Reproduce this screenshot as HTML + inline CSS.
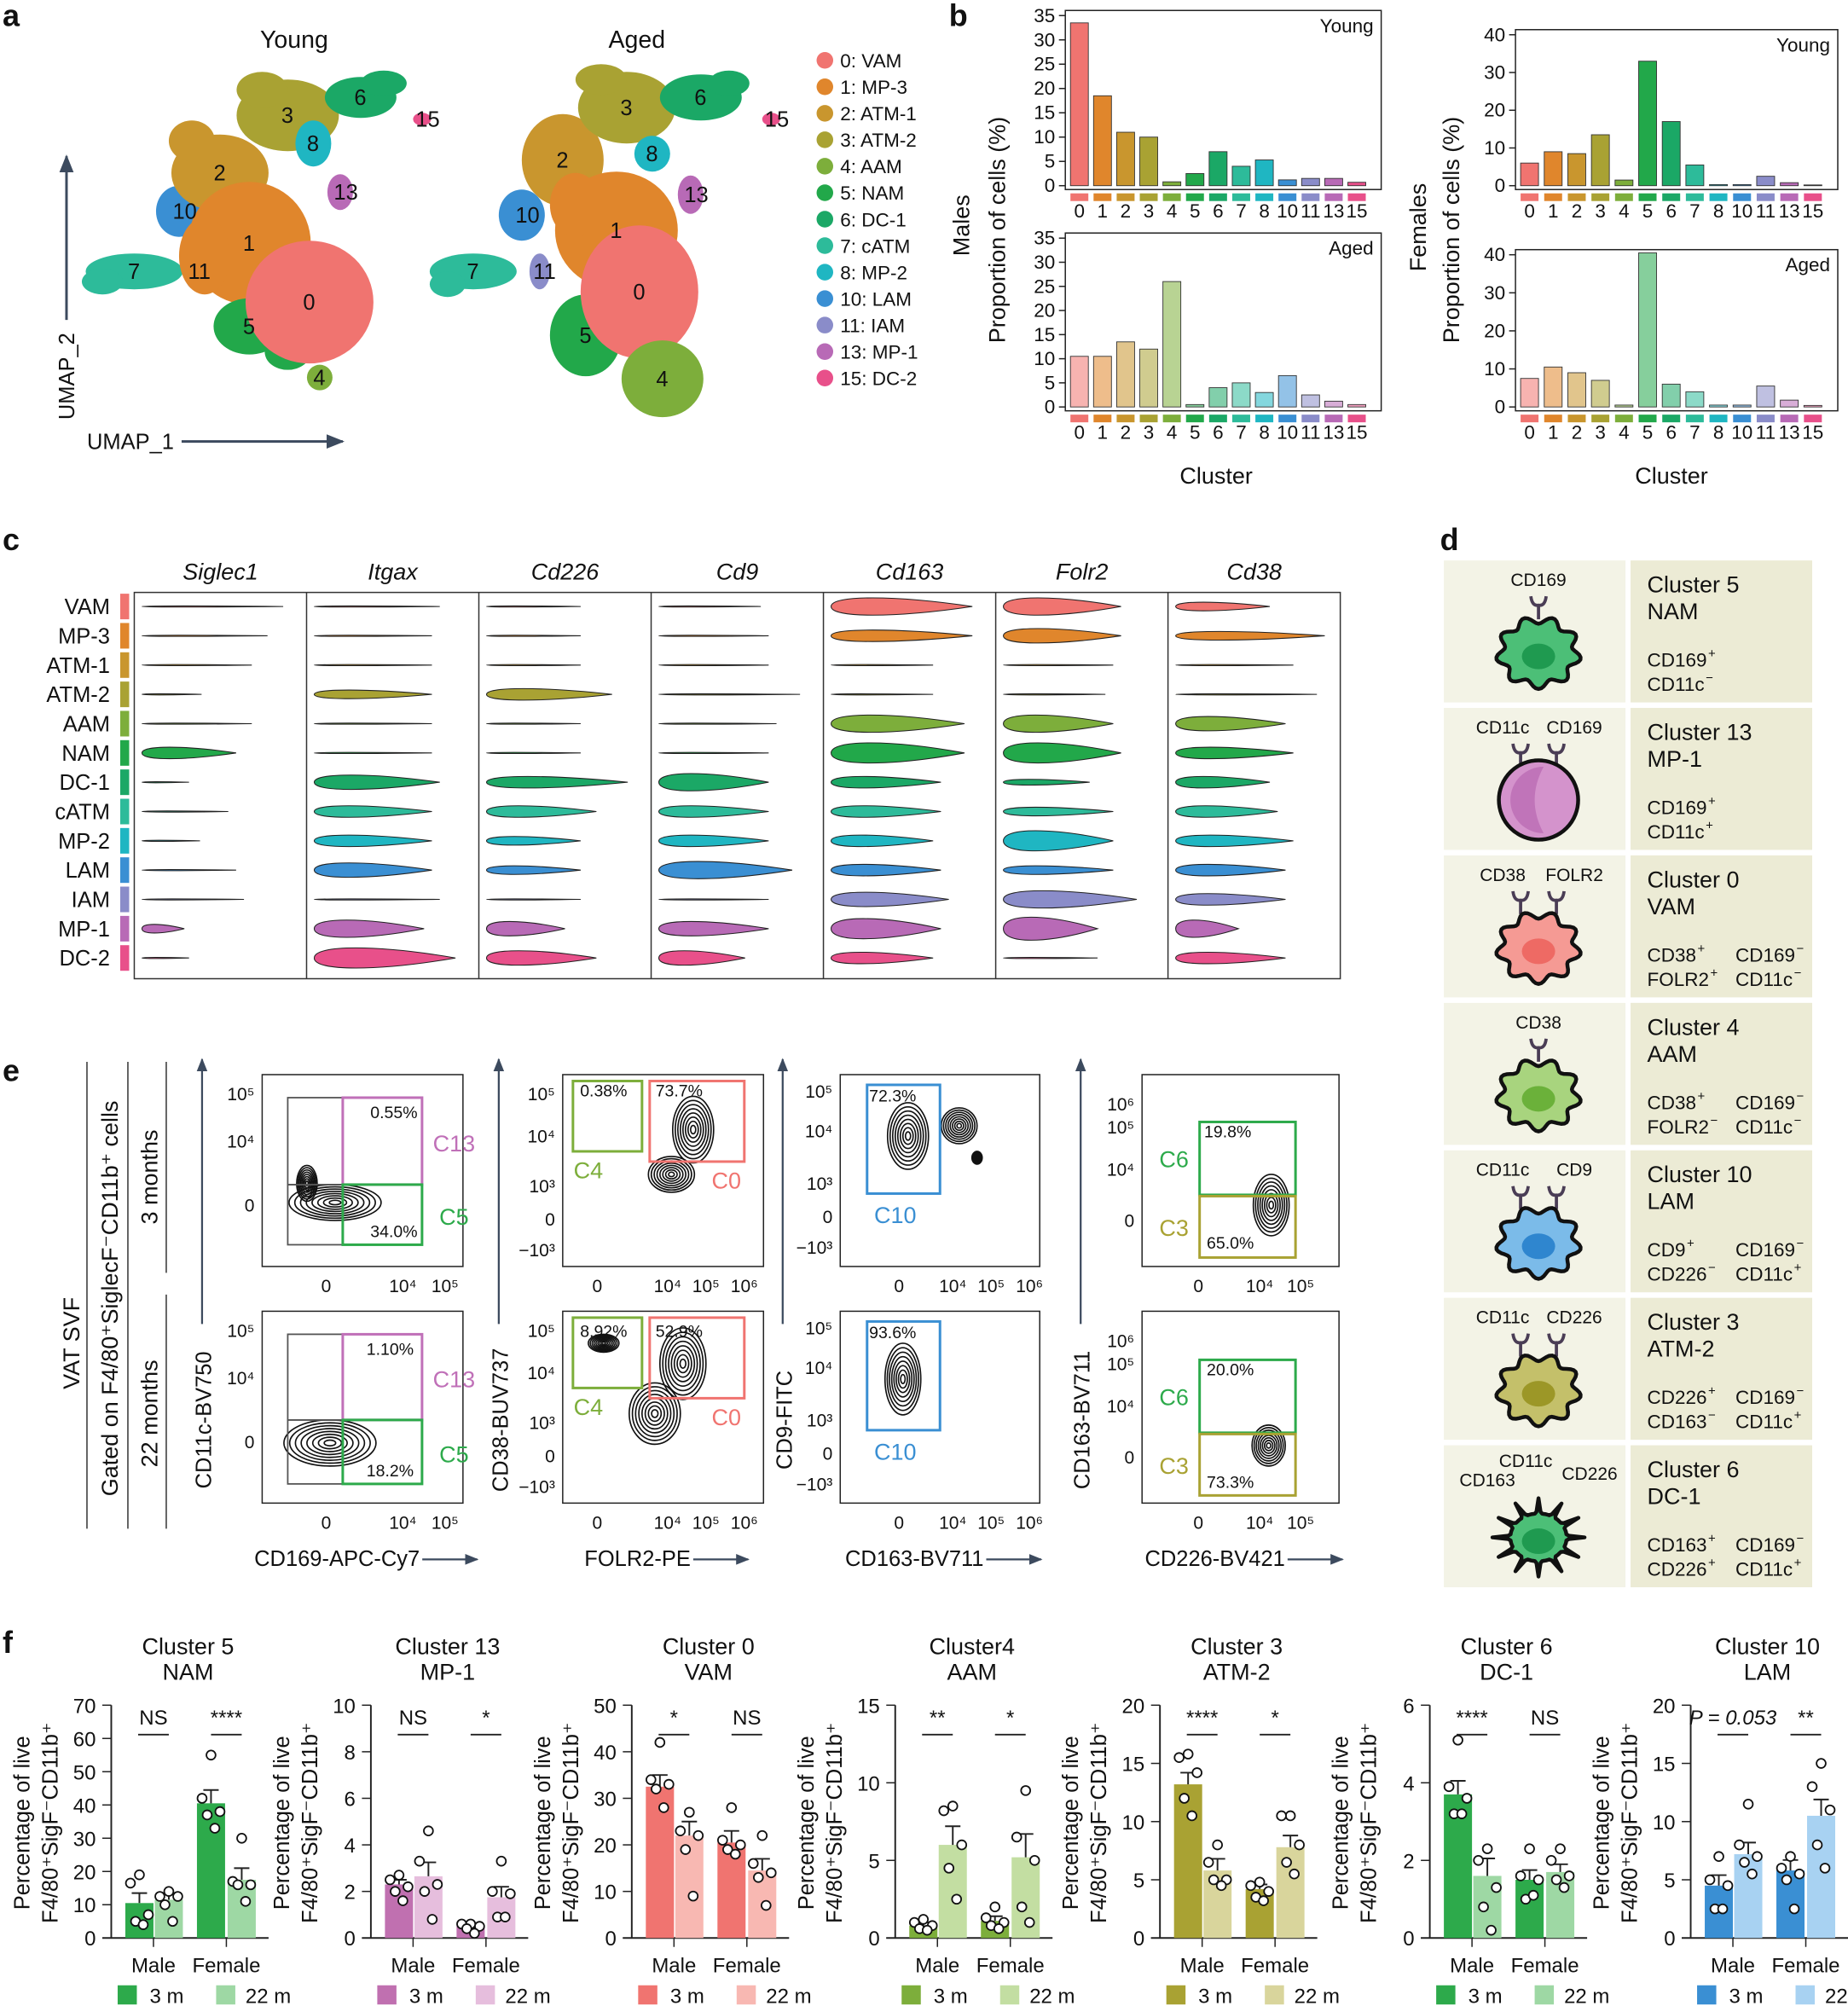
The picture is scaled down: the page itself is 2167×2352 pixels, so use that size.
<!DOCTYPE html>
<html><head><meta charset="utf-8"><style>
html,body{margin:0;padding:0;background:#fff}
svg{display:block;font-family:"Liberation Sans",Arial,sans-serif}
</style></head><body>
<svg id="s" width="2167" height="2352" viewBox="0 0 1445 1568" xmlns="http://www.w3.org/2000/svg"></svg>
<script>
// ---------- DATA ----------
const clusterIds=['0','1','2','3','4','5','6','7','8','10','11','13','15'];
const clusterNames=['VAM','MP-3','ATM-1','ATM-2','AAM','NAM','DC-1','cATM','MP-2','LAM','IAM','MP-1','DC-2'];
const clusterColors=['#F07470','#E0862C','#C9962E','#A9A233','#7DAE3B','#22A84A','#1BA866','#2DBB9A','#1FB6C2','#3A8FD3','#8A8CC9','#B86AB6','#E8508A'];
const youngMale=[33.5,18.5,11,10,0.8,2.5,7,4,5.3,1.2,1.5,1.5,0.7];
const agedMale=[10.5,10.5,13.5,12,26,0.5,4,5,3,6.5,2.5,1.2,0.5];
const youngFemale=[6,9,8.5,13.5,1.5,33,17,5.5,0.3,0.3,2.5,0.8,0.2];
const agedFemale=[7.5,10.5,9,7,0.5,40.5,6,4,0.5,0.5,5.5,1.8,0.4];
const violinGenes=['Siglec1','Itgax','Cd226','Cd9','Cd163','Folr2','Cd38'];
const violinRowOrder=[0,1,2,3,4,5,6,7,8,9,10,11,12];
const vLen={Siglec1:[.9,.8,.7,.38,.7,.6,.3,.55,.37,.6,.65,.27,.3],Itgax:[.8,.75,.75,.75,.75,.75,.8,.75,.75,.75,.8,.7,.9],Cd226:[.6,.6,.6,.8,.6,.6,.9,.7,.6,.6,.6,.5,.7],Cd9:[.65,.7,.7,.9,.75,.7,.7,.7,.7,.85,.7,.7,.55],Cd163:[.9,.9,.65,.65,.85,.85,.7,.7,.65,.7,.75,.7,.65],Folr2:[.75,.75,.7,.65,.7,.75,.55,.7,.7,.7,.85,.6,.6],Cd38:[.6,.95,.75,.9,.7,.75,.6,.65,.75,.7,.7,.4,.7]};
const vHt={Siglec1:[.4,.4,.4,.4,.4,4,.4,.4,.4,.4,.4,3,.4],Itgax:[.4,.4,.4,3,.4,.4,5,4,4,5,.4,6,7],Cd226:[.4,.4,.4,4,.4,.4,4,4,3,3,.4,5,5],Cd9:[.4,.4,.4,.4,.4,.4,6,4,4,6,.4,5,5],Cd163:[6,4,.4,.4,6,7,4,4,4,4,5,7,4],Folr2:[6,5,.4,.4,6,7,2,3,7,3,6,8,.4],Cd38:[3,3,.4,.4,5,4,4,4,4,4,4,6,4]};
const fTitles=[['Cluster 5','NAM'],['Cluster 13','MP-1'],['Cluster 0','VAM'],['Cluster4','AAM'],['Cluster 3','ATM-2'],['Cluster 6','DC-1'],['Cluster 10','LAM']];
const fMax=[70,10,50,15,20,6,20];
const fStep=[10,2,10,5,5,2,5];
const fMeans=[[10.5,11.5,40.5,17.5],[2.3,2.65,0.5,1.75],[32.5,22,20.5,14.5],[0.8,6,1.1,5.2],[13.2,5.8,4.2,7.8],[3.7,1.6,1.5,1.7],[4.5,7.2,5.8,10.5]];
const fSem=[[3,2,4,3.5],[0.2,0.6,0.1,0.45],[2.5,3,2.5,2.5],[0.2,1.2,0.3,1.5],[1,1,0.4,1],[0.35,0.45,0.25,0.2],[0.9,1,0.9,1.4]];
const fPoints=[
 [[19,16.5,7,5,4],[14,12.5,12.5,10,5],[55,42,38,37,33],[30,17,16,16,11]],
 [[2.7,2.5,2.2,2.0,1.6],[4.6,3.3,2.3,2.0,0.8],[0.6,0.6,0.5,0.4,0.2],[3.3,2.0,1.9,0.9,0.9]],
 [[42,34,33,32,28],[27,23,22,19,9],[28,21,20,19,18],[22,16,14,13,7]],
 [[1.2,1,0.8,0.6,0.5],[8.5,8.2,6,4.5,2.5],[2,1.3,1,0.8,0.6],[9.5,6.5,5,2,1]],
 [[15.8,15.5,14.2,12,10.5],[8,6.5,5,5,4.5],[4.8,4.5,4,3.5,3.2],[10.5,10.5,8,6.5,5.5]],
 [[5.1,3.9,3.6,3.2,3.2],[2.3,2.0,1.3,0.8,0.2],[2.3,1.6,1.5,1.0,1.1],[2.3,2.0,1.6,1.5,1.3]],
 [[7,5,4.5,2.5,2.5],[11.5,8,7,6.5,5.5],[7,6,5.5,5,2.5],[15,13,11,8,6]]];
const fSig=[['NS','****'],['NS','*'],['*','NS'],['**','*'],['****','*'],['****','NS'],['P = 0.053','**']];
const fDark=['#2DAA4B','#C070B0','#F07470','#7DAE3B','#A9A233','#2DAA4B','#3A8FD3'];
const fLight=['#9ED8A4','#E6BEDD','#F8B8B2','#C3DEA2','#D9D59C','#9ED8A4','#A8D2F2'];

// ---------- helpers ----------
const NS='http://www.w3.org/2000/svg';
const S=document.getElementById('s');
function mk(tag,a,p){const e=document.createElementNS(NS,tag);for(const k in a)e.setAttribute(k,a[k]);(p||S).appendChild(e);return e;}
function tx(x,y,t,o,p){o=o||{};const e=mk('text',Object.assign({x:x,y:y,'font-size':o.fs||15,fill:o.fill||'#111','text-anchor':o.anchor||'start'},o.extra||{}),p);e.textContent=t;return e;}
function grp(name){const g=mk('g',{});return g;}

[['a',2,20],['b',742,20],['c',2,430],['d',1126,430],['e',2,845],['f',2,1292]].forEach(l=>{
 const t=tx(l[1],l[2],l[0],{fs:24,extra:{'font-weight':'bold'}});
 
 
});

// ---------- panel a : UMAP ----------
const ga=grp('panel-a-umap');
const youngBlobs=[[7,105,212,38,14],[7,80,220,16,10],[10,140,165,18,20],[11,152,212,8,14],[2,172,135,38,30],[2,150,110,18,16],[3,225,90,40,28],[3,205,70,20,14],[6,282,76,28,16],[6,300,65,18,10],[8,245,112,14,18],[13,266,150,10,14],[15,330,93,7,5],[1,195,190,48,48],[1,160,200,20,30],[5,195,255,28,22],[5,225,275,18,14],[4,250,295,10,10],[0,242,236,50,48]];
const agedBlobs=[[7,370,212,34,14],[7,350,222,14,10],[10,408,168,18,20],[11,422,212,8,14],[2,440,125,32,36],[3,490,84,38,28],[3,470,62,20,12],[6,548,76,32,18],[6,570,65,16,10],[8,510,120,14,14],[13,540,152,10,15],[15,603,93,7,5],[1,482,180,48,46],[1,450,160,20,25],[5,458,262,28,32],[0,500,228,46,52],[4,518,296,32,30]];
function idxOf(c){return clusterIds.indexOf(String(c));}
[youngBlobs,agedBlobs].forEach((bl,k)=>{
 bl.forEach(b=>{
  const e=mk('ellipse',{cx:b[1],cy:b[2],rx:b[3],ry:b[4],fill:clusterColors[idxOf(b[0])]},ga);
  
  
 });
 const seen={};
 bl.forEach(b=>{if(seen[b[0]])return;seen[b[0]]=1;tx(b[1]-5,b[2]+6,String(b[0]),{fs:17},ga);});
});
tx(230,37,'Young',{fs:19,anchor:'middle'},ga);
tx(498,37,'Aged',{fs:19,anchor:'middle'},ga);
mk('defs',{}).innerHTML='<marker id="ar" viewBox="0 0 10 10" refX="9" refY="5" markerWidth="7" markerHeight="7" orient="auto"><path d="M0,1L10,5L0,9z" fill="#3c4a5e"/></marker>';
mk('line',{x1:52,y1:250,x2:52,y2:122,stroke:'#3c4a5e','stroke-width':2,'marker-end':'url(#ar)'},ga);
mk('line',{x1:142,y1:345,x2:268,y2:345,stroke:'#3c4a5e','stroke-width':2,'marker-end':'url(#ar)'},ga);
tx(58,328,'UMAP_2',{fs:17,extra:{transform:'rotate(-90 58 328)'}},ga);
tx(68,351,'UMAP_1',{fs:17},ga);
const legA=grp('cluster-legend');
clusterIds.forEach((c,i)=>{
 const y=47+i*20.7;
 const d=mk('circle',{cx:645,cy:y,r:6.5,fill:clusterColors[i]},legA);
 
 
 tx(657,y+5.5,c+': '+clusterNames[i],{fs:15},legA);
});

// ---------- panel b ----------
function barChart(name,vals,x0,x1,yTop,yBot,maxV,step,label,light){
 const g=grp(name);
 mk('rect',{x:x0,y:yTop-3,width:x1-x0,height:yBot-yTop+6,fill:'none',stroke:'#222','stroke-width':1},g);
 const ys=v=>yBot-(v/maxV)*(yBot-(yTop+1));
 for(let v=0;v<=maxV;v+=step){mk('line',{x1:x0-5,x2:x0,y1:ys(v),y2:ys(v),stroke:'#222'},g);tx(x0-8,ys(v)+5,String(v),{fs:15,anchor:'end'},g);}
 const slot=(x1-x0-12)/13;
 vals.forEach((v,i)=>{
  const cx=x0+11+i*slot;
  const r=mk('rect',{x:cx-7,y:ys(v),width:14,height:yBot-ys(v),fill:clusterColors[i],'fill-opacity':light?0.55:1,stroke:'#333','stroke-width':0.6},g);
  
  
  mk('rect',{x:cx-7,y:yBot+6,width:14,height:6,fill:clusterColors[i]},g);
  tx(cx,yBot+25,clusterIds[i],{fs:15,anchor:'middle'},g);
 });
 tx(x1-6,yTop+14,label,{fs:15,anchor:'end'},g);
}
barChart('bar-chart-young-males',youngMale,833,1080,11,145,35,5,'Young',false);
barChart('bar-chart-aged-males',agedMale,833,1080,185,318,35,5,'Aged',true);
barChart('bar-chart-young-females',youngFemale,1185,1437,26,145,40,10,'Young',false);
barChart('bar-chart-aged-females',agedFemale,1185,1437,198,318,40,10,'Aged',true);
tx(758,200,'Males',{fs:18,extra:{transform:'rotate(-90 758 200)'}});
tx(786,268,'Proportion of cells (%)',{fs:18,extra:{transform:'rotate(-90 786 268)'}});
tx(1115,212,'Females',{fs:18,extra:{transform:'rotate(-90 1115 212)'}});
tx(1141,268,'Proportion of cells (%)',{fs:18,extra:{transform:'rotate(-90 1141 268)'}});
tx(951,378,'Cluster',{fs:18,anchor:'middle'});
tx(1307,378,'Cluster',{fs:18,anchor:'middle'});

// ---------- panel c ----------
const gc=grp('panel-c-violins');
const vx0=105,vx1=1048,vy0=463,vy1=765,colW=(vx1-vx0)/7;
mk('rect',{x:vx0,y:vy0,width:vx1-vx0,height:vy1-vy0,fill:'none',stroke:'#333'},gc);
for(let j=1;j<7;j++)mk('line',{x1:vx0+j*colW,x2:vx0+j*colW,y1:vy0,y2:vy1,stroke:'#333'},gc);
violinRowOrder.forEach((ci,i)=>{
 const y=474+i*22.9;
 tx(86,y+6,clusterNames[ci],{fs:17,anchor:'end'},gc);
 mk('rect',{x:94,y:y-10,width:7,height:20,fill:clusterColors[ci]},gc);
});
violinGenes.forEach((g,j)=>{
 const cx0=vx0+j*colW+6;
 tx(vx0+(j+.5)*colW,453,g,{fs:18,anchor:'middle',extra:{'font-style':'italic'}},gc);
 violinRowOrder.forEach((ci,i)=>{
  const y=474+i*22.9,L=vLen[g][i]*(colW-12),H=vHt[g][i]*1.25;
  const p=mk('path',{d:`M${cx0},${y}C${cx0},${y-H*1.2} ${cx0+.45*L},${y-H*1.2} ${cx0+L},${y}C${cx0+.45*L},${y+H*1.2} ${cx0},${y+H*1.2} ${cx0},${y}Z`,fill:clusterColors[ci],stroke:'#222','stroke-width':0.7},gc);
  
  
 });
});

// ---------- panel d ----------
const gd=grp('panel-d-cell-types');
const cards=[
 {t:['Cluster 5','NAM'],ab:['CD169'],m:[['CD169','+'],['CD11c','−']],c:'#4cbf77',n:'#1f9a50',shape:'wavy'},
 {t:['Cluster 13','MP-1'],ab:['CD11c','CD169'],m:[['CD169','+'],['CD11c','+']],c:'#d493cc',n:'#b866b0',shape:'round'},
 {t:['Cluster 0','VAM'],ab:['CD38','FOLR2'],m:[['CD38','+'],['FOLR2','+'],['CD169','−'],['CD11c','−']],c:'#f59a94',n:'#ee6a64',shape:'wavy'},
 {t:['Cluster 4','AAM'],ab:['CD38'],m:[['CD38','+'],['FOLR2','−'],['CD169','−'],['CD11c','−']],c:'#a8d47e',n:'#6bb13a',shape:'wavy'},
 {t:['Cluster 10','LAM'],ab:['CD11c','CD9'],m:[['CD9','+'],['CD226','−'],['CD169','−'],['CD11c','+']],c:'#7bbbe9',n:'#2f86cf',shape:'wavy'},
 {t:['Cluster 3','ATM-2'],ab:['CD11c','CD226'],m:[['CD226','+'],['CD163','−'],['CD169','−'],['CD11c','+']],c:'#c4c06a',n:'#9c9727',shape:'wavy'},
 {t:['Cluster 6','DC-1'],ab:['CD163','CD11c','CD226'],m:[['CD163','+'],['CD226','+'],['CD169','−'],['CD11c','+']],c:'#4cbf77',n:'#1f9a50',shape:'dc'}];
cards.forEach((cd,i)=>{
 const y=438+i*115.3,h=111;
 const card=grp('cell-card-'+cd.t[1].toLowerCase());
 gd.appendChild(card);
 mk('rect',{x:1129,y:y,width:142,height:h,fill:'#F3F3E6'},card);
 mk('rect',{x:1275,y:y,width:142,height:h,fill:'#ECEBD5'},card);
 const cx=1203,cy=y+72;
 const abx=cd.ab.length===1?[cx]:cd.ab.length===2?[cx-18,cx+18]:[cx-32,cx-10,cx+28];
 const aby=cd.ab.length===3?[y+32,y+17,y+27]:cd.ab.map(()=>y+20);
 cd.ab.forEach((a,k)=>{
  const ax=abx[k];
  tx(ax+(cd.ab.length===2?(k?10:-10):0)+(cd.ab.length===3?(k===0?-8:(k===2?12:0)):0),aby[k],a,{fs:14,anchor:'middle'},card);
 });
 // receptors attached to cell
 const recx=cd.ab.length===1?[cx]:cd.ab.length===2?[cx-14,cx+14]:[cx-14,cx+14];
 if(cd.shape!=='dc')recx.forEach(ax=>{
  mk('path',{d:`M${ax},${cy-26}L${ax},${cy-37}M${ax-6},${cy-44}Q${ax-5},${cy-36} ${ax},${cy-37}Q${ax+5},${cy-36} ${ax+6},${cy-44}`,stroke:'#4a3d55','stroke-width':2.5,fill:'none'},card);
 });
 let d='';
 if(cd.shape==='round'){
  mk('circle',{cx:cx,cy:cy,r:31,fill:cd.c,stroke:'#111','stroke-width':3},card);
  mk('path',{d:`M${cx+4},${cy-26}A26,26 0 1,0 ${cx+4},${cy+26}Q${cx-10},${cy} ${cx+4},${cy-26}Z`,fill:cd.n,'fill-opacity':0.7},card);
 } else {
  const n=cd.shape==='dc'?12:9;
  for(let a=0;a<=96;a++){const th=a/96*2*Math.PI;const r=(cd.shape==='dc'?22:30)+(cd.shape==='dc'?14*Math.max(0,Math.cos(n*th))**6:3.5*Math.sin(n*th));d+=(a?'L':'M')+(cx+r*Math.cos(th)).toFixed(1)+','+(cy+r*0.85*Math.sin(th)).toFixed(1);}
  mk('path',{d:d+'Z',fill:cd.c,stroke:'#111','stroke-width':3,'stroke-linejoin':'round'},card);
  mk('ellipse',{cx:cx,cy:cy+3,rx:13,ry:10,fill:cd.n},card);
 }
 tx(1288,y+25,cd.t[0],{fs:18},card);
 tx(1288,y+46,cd.t[1],{fs:18},card);
 cd.m.forEach((m,k)=>{
  const col=k<2?1288:1357,row=k%2;
  const t=tx(col,y+83+row*19,m[0],{fs:15},card);
  tx(col+t.getComputedTextLength()+1,y+76+row*19,m[1],{fs:10},card);
 });
});

// ---------- panel e ----------
const ge=grp('panel-e-flow');
mk('line',{x1:68,y1:830,x2:68,y2:1195,stroke:'#333'},ge);
mk('line',{x1:100,y1:830,x2:100,y2:1195,stroke:'#333'},ge);
mk('line',{x1:130,y1:830,x2:130,y2:995,stroke:'#333'},ge);
mk('line',{x1:130,y1:1012,x2:130,y2:1195,stroke:'#333'},ge);
tx(62,1050,'VAT SVF',{fs:18,anchor:'middle',extra:{transform:'rotate(-90 62 1050)'}},ge);
tx(92,1015,'Gated on F4/80⁺SiglecF⁻CD11b⁺ cells',{fs:18,anchor:'middle',extra:{transform:'rotate(-90 92 1015)'}},ge);
tx(123,920,'3 months',{fs:18,anchor:'middle',extra:{transform:'rotate(-90 123 920)'}},ge);
tx(123,1105,'22 months',{fs:18,anchor:'middle',extra:{transform:'rotate(-90 123 1105)'}},ge);
const plots=[
 {x:205,w:157,yl:'CD11c-BV750',xl:'CD169-APC-Cy7',ax:158,yt:[['10⁵',860],['10⁴',897],['0',947]],xt:[['0',255],['10⁴',315],['10⁵',348]],
  rows:[{g:[[225,858,43,68,'#555',''],[225,926,43,47,'#555',''],[268,858,62,68,'#C070B8','C13'],[268,926,62,47,'#2DAA4B','C5']],pct:[['0.55%',308,874],['34.0%',308,967]],c:[[262,940,36,14],[240,925,8,14]]},
        {g:[[225,1043,43,67,'#555',''],[225,1110,43,50,'#555',''],[268,1043,62,67,'#C070B8','C13'],[268,1110,62,50,'#2DAA4B','C5']],pct:[['1.10%',305,1059],['18.2%',305,1154]],c:[[258,1128,36,18]]}]},
 {x:440,w:157,yl:'CD38-BUV737',xl:'FOLR2-PE',ax:390,yt:[['10⁵',860],['10⁴',893],['10³',932],['0',958],['−10³',982]],xt:[['0',467],['10⁴',522],['10⁵',552],['10⁶',582]],
  rows:[{g:[[448,845,54,55,'#7DAE3B','C4'],[508,845,74,63,'#F07470','C0']],pct:[['0.38%',472,857],['73.7%',531,857]],c:[[542,883,16,26],[525,918,18,14]]},
        {g:[[448,1030,54,55,'#7DAE3B','C4'],[508,1030,74,63,'#F07470','C0']],pct:[['8.92%',472,1045],['52.9%',531,1045]],c:[[534,1066,18,28],[512,1105,20,24],[472,1050,12,7]]}]},
 {x:657,w:156,yl:'CD9-FITC',xl:'CD163-BV711',ax:612,yt:[['10⁵',858],['10⁴',889],['10³',930],['0',956],['−10³',980]],xt:[['0',703],['10⁴',745],['10⁵',775],['10⁶',805]],
  rows:[{g:[[678,848,57,85,'#3A8FD3','C10']],pct:[['72.3%',698,861]],c:[[710,888,16,26],[750,880,14,14],[764,905,4,5]]},
        {g:[[678,1033,57,85,'#3A8FD3','C10']],pct:[['93.6%',698,1046]],c:[[706,1078,14,28]]}]},
 {x:893,w:154,yl:'CD163-BV711',xl:'CD226-BV421',ax:845,yt:[['10⁶',868],['10⁵',886],['10⁴',919],['0',959]],xt:[['0',937],['10⁴',985],['10⁵',1017]],
  rows:[{g:[[938,877,75,57,'#2DAA4B','C6'],[938,935,75,48,'#A9A233','C3']],pct:[['19.8%',960,889],['65.0%',962,976]],c:[[994,942,14,24]]},
        {g:[[938,1063,75,57,'#2DAA4B','C6'],[938,1121,75,48,'#A9A233','C3']],pct:[['20.0%',962,1075],['73.3%',962,1163]],c:[[992,1130,13,16]]}]}];
plots.forEach((pl,pi)=>{
 const pg=grp('flow-plot-column-'+(pi+1));
 ge.appendChild(pg);
 mk('line',{x1:pl.ax,y1:1035,x2:pl.ax,y2:828,stroke:'#3c4a5e','stroke-width':1.5,'marker-end':'url(#ar)'},pg);
 tx(pl.ax+7,1110,pl.yl,{fs:17,anchor:'middle',extra:{transform:`rotate(-90 ${pl.ax+7} 1110)`}},pg);
 const xlab=tx(pl.x+pl.w/2-20,1224,pl.xl,{fs:17,anchor:'middle'},pg);
 const xe=pl.x+pl.w/2-20+xlab.getComputedTextLength()/2;
 mk('line',{x1:xe+2,y1:1219,x2:xe+45,y2:1219,stroke:'#3c4a5e','stroke-width':1.5,'marker-end':'url(#ar)'},pg);
 pl.rows.forEach((r,ri)=>{
  const oy=ri*185;
  const box=mk('rect',{x:pl.x,y:840+oy,width:pl.w,height:150,fill:'#fff',stroke:'#222'},pg);
  
  
  pl.yt.forEach(t=>tx(pl.x-6,t[1]+oy,t[0],{fs:14,anchor:'end'},pg));
  pl.xt.forEach(t=>tx(t[1],1010+oy,t[0],{fs:14,anchor:'middle'},pg));
  r.c.forEach(c=>{for(let k=1;k<=8;k++)mk('ellipse',{cx:c[0],cy:c[1],rx:c[2]*k/8,ry:c[3]*k/8,fill:'none',stroke:'#111','stroke-width':1.1},pg);});
  r.g.forEach(g=>{
   mk('rect',{x:g[0],y:g[1],width:g[2],height:g[3],fill:'none',stroke:g[4],'stroke-width':g[5]?2:1.2},pg);
   if(g[5]){tx(pi===3?918:(pi===0?355:(pi===1?(g[5]==='C4'?460:568):700)),pi===2?g[1]+g[3]+23:(pi===3?g[1]+g[3]/2+7:(pi===0?g[1]+g[3]/2+8:g[1]+g[3]+21)),g[5],{fs:18,anchor:'middle',fill:g[4]},pg);}
  });
  r.pct.forEach(p=>tx(p[1],p[2],p[0],{fs:13,anchor:'middle'},pg));
 });
});

// ---------- panel f ----------
const axes=[87,290,494,700,907,1118,1322];
const yB=1515,yT=1333;
fTitles.forEach((tt,i)=>{
 const ax=axes[i],g=grp('chart-f-'+tt[1].toLowerCase());
 const ys=v=>yB-v/fMax[i]*(yB-yT);
 tx(ax+60,1293,tt[0],{fs:18,anchor:'middle'},g);
 tx(ax+60,1313,tt[1],{fs:18,anchor:'middle'},g);
 mk('line',{x1:ax,y1:yT,x2:ax,y2:yB,stroke:'#222','stroke-width':1.3},g);
 mk('line',{x1:ax-7,y1:yB,x2:ax+123,y2:yB,stroke:'#222','stroke-width':1.3},g);
 mk('line',{x1:ax+33,y1:yB,x2:ax+33,y2:yB+7,stroke:'#222'},g);
 mk('line',{x1:ax+90,y1:yB,x2:ax+90,y2:yB+7,stroke:'#222'},g);
 for(let v=0;v<=fMax[i]+1e-9;v+=fStep[i]){mk('line',{x1:ax-7,x2:ax,y1:ys(v),y2:ys(v),stroke:'#222'},g);tx(ax-12,ys(v)+6,String(v),{fs:16,anchor:'end'},g);}
 const lx=ax-64;
 tx(lx,1425,'Percentage of live',{fs:17,anchor:'middle',extra:{transform:`rotate(-90 ${lx} 1425)`}},g);
 tx(lx+22,1425,'F4/80⁺SigF⁻CD11b⁺',{fs:17,anchor:'middle',extra:{transform:`rotate(-90 ${lx+22} 1425)`}},g);
 const bx=[ax+11,ax+34,ax+67,ax+91];
 fMeans[i].forEach((m,k)=>{
  const col=k%2?fLight[i]:fDark[i];
  const r=mk('rect',{x:bx[k],y:ys(m),width:22,height:yB-ys(m),fill:col},g);
  
  
  const cx=bx[k]+11,top=ys(m+fSem[i][k]);
  mk('path',{d:`M${cx},${ys(m)}L${cx},${top}M${cx-6},${top}L${cx+6},${top}`,stroke:'#222','stroke-width':1.3,fill:'none'},g);
  const off=[0,-7,7,-3,3];
  fPoints[i][k].forEach((v,n)=>{
   const c=mk('circle',{cx:cx+off[n],cy:ys(v),r:3.6,fill:'#fff',stroke:'#111','stroke-width':1.2},g);
   
   
  });
 });
 [0,1].forEach(s=>{
  const cx=s?ax+90:ax+33;
  tx(cx,1348,fSig[i][s],{fs:16,anchor:'middle',extra:fSig[i][s].startsWith('P')?{'font-style':'italic'}:{}},g);
  mk('line',{x1:cx-12,x2:cx+12,y1:1356,y2:1356,stroke:'#222','stroke-width':1.2},g);
 });
 tx(ax+33,1542,'Male',{fs:16,anchor:'middle'},g);
 tx(ax+90,1542,'Female',{fs:16,anchor:'middle'},g);
 const l1=mk('rect',{x:ax+5,y:1552,width:15,height:15,fill:fDark[i]},g);
 
 
 tx(ax+30,1566,'3 m',{fs:16},g);
 const l2=mk('rect',{x:ax+82,y:1552,width:15,height:15,fill:fLight[i]},g);
 
 
 tx(ax+105,1566,'22 m',{fs:16},g);
});
</script>
</body></html>
